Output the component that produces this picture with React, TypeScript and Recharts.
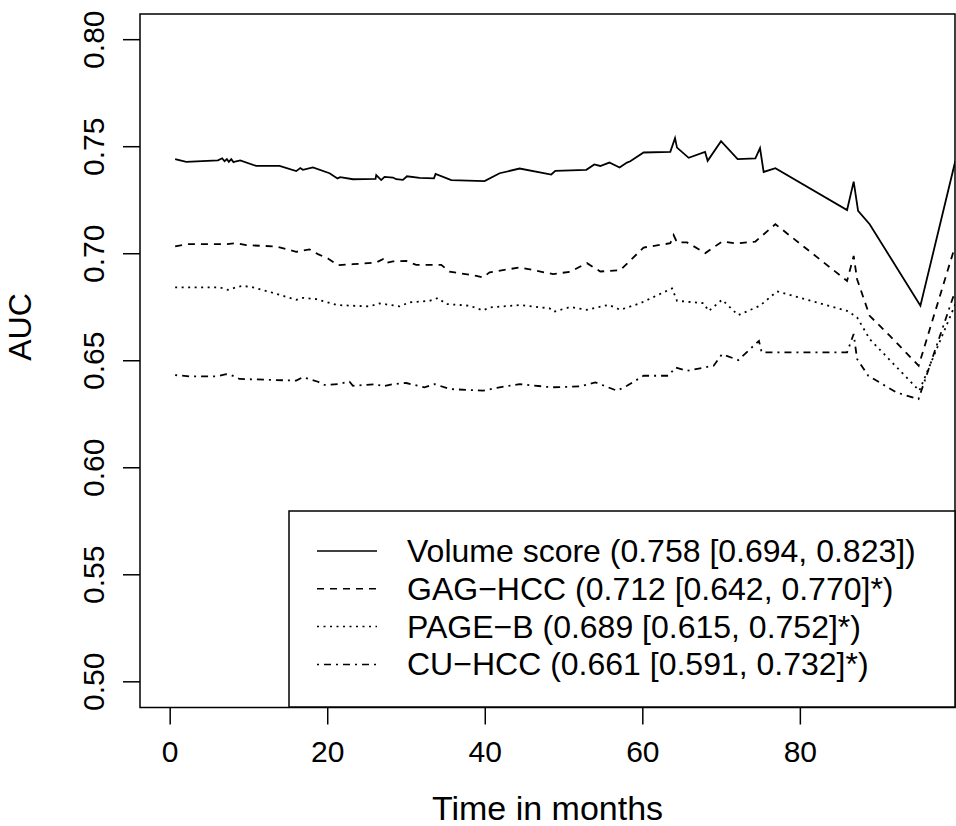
import React from "react";
import {
  LineChart,
  Line,
  XAxis,
  YAxis,
  Legend,
  ReferenceArea,
} from "recharts";

// [month, AUC]
const volumeScore: [number, number][] = [
  [0.63, 0.7442], [2.03, 0.7429], [6.06, 0.7436], [6.6, 0.7446], [6.9, 0.7432],
  [7.2, 0.7442], [7.45, 0.7429], [7.75, 0.7442], [8.04, 0.7428], [8.38, 0.7432],
  [8.89, 0.7436], [10.92, 0.741], [13.88, 0.741], [16.0, 0.7386], [16.51, 0.74],
  [16.85, 0.7392], [18.12, 0.7403], [20.23, 0.7376], [21.24, 0.7352], [21.59, 0.7358],
  [23.2, 0.7348], [26.07, 0.735], [26.16, 0.7367], [26.79, 0.7344], [27.21, 0.7359],
  [28.28, 0.7356], [28.7, 0.7348], [29.55, 0.7345], [30.06, 0.7362], [31.66, 0.7354],
  [33.49, 0.7352], [33.69, 0.7373], [35.68, 0.7344], [39.91, 0.7339], [41.82, 0.7376],
  [44.36, 0.7398], [48.38, 0.737], [48.89, 0.7387], [52.83, 0.7392], [53.84, 0.7417],
  [54.6, 0.741], [55.75, 0.7426], [57.05, 0.7403], [57.99, 0.7426], [58.41, 0.7432],
  [60.1, 0.7473], [63.49, 0.7476], [64.09, 0.754], [64.34, 0.7496], [65.82, 0.7448],
  [67.9, 0.7476], [68.23, 0.7434], [69.93, 0.7526], [72.04, 0.7442], [74.29, 0.7445],
  [74.88, 0.7493], [75.34, 0.7382], [76.83, 0.74], [85.93, 0.7204], [86.77, 0.7337],
  [87.33, 0.72], [88.8, 0.7138], [95.24, 0.6757], [99.68, 0.7434],
];

const gagHcc: [number, number][] = [
  [0.63, 0.7034], [2.25, 0.7045], [7.11, 0.7045], [8.38, 0.7049], [9.65, 0.704],
  [13.46, 0.7034], [16.0, 0.7009], [17.69, 0.702], [18.76, 0.6998], [20.03, 0.6978],
  [21.29, 0.6947], [23.2, 0.6951], [26.16, 0.6959], [27.01, 0.6975], [27.34, 0.6956],
  [28.28, 0.6964], [29.97, 0.6966], [31.24, 0.6948], [34.41, 0.6948], [35.47, 0.6916],
  [38.86, 0.6897], [39.71, 0.6889], [40.55, 0.6913], [44.36, 0.6936], [48.6, 0.6905],
  [50.79, 0.6916], [52.91, 0.6956], [54.6, 0.6917], [57.14, 0.6923], [60.1, 0.7029],
  [63.49, 0.7049], [63.91, 0.7087], [64.34, 0.7053], [65.61, 0.7053], [67.94, 0.7003],
  [70.06, 0.7057], [71.96, 0.7048], [74.29, 0.7057], [76.83, 0.7138], [85.93, 0.6873],
  [86.77, 0.699], [87.2, 0.6881], [88.8, 0.671], [91.34, 0.6617], [95.02, 0.6477],
  [99.59, 0.7029],
];

const pageB: [number, number][] = [
  [0.63, 0.6843], [6.26, 0.6843], [7.33, 0.6831], [8.38, 0.6843], [9.23, 0.685],
  [10.5, 0.6843], [12.61, 0.6822], [16.0, 0.6785], [16.85, 0.6794], [18.54, 0.6788],
  [21.24, 0.676], [25.31, 0.6754], [26.58, 0.6768], [29.12, 0.6754], [30.39, 0.6773],
  [32.93, 0.678], [33.99, 0.6793], [35.05, 0.6765], [38.01, 0.6757], [39.71, 0.6735],
  [40.55, 0.6749], [44.36, 0.676], [48.17, 0.6745], [48.67, 0.6729], [50.79, 0.6751],
  [52.91, 0.6738], [55.66, 0.6761], [57.14, 0.6738], [59.68, 0.6769], [63.71, 0.6838],
  [64.34, 0.678], [67.72, 0.6769], [68.36, 0.6732], [70.06, 0.6785], [72.11, 0.6713],
  [74.86, 0.6757], [77.04, 0.6824], [85.93, 0.6733], [87.2, 0.6703], [88.8, 0.6601],
  [95.1, 0.636], [99.68, 0.6765],
];

const cuHcc: [number, number][] = [
  [0.63, 0.6433], [2.45, 0.6427], [5.84, 0.6427], [7.11, 0.6437], [7.75, 0.6433],
  [8.8, 0.6415], [16.0, 0.6407], [16.85, 0.6423], [18.76, 0.6402], [19.59, 0.6387],
  [21.29, 0.6391], [22.77, 0.6402], [23.2, 0.6383], [26.16, 0.6391], [27.01, 0.638],
  [28.28, 0.6391], [29.97, 0.6396], [32.29, 0.6376], [33.56, 0.6391], [35.47, 0.6368],
  [39.71, 0.636], [41.82, 0.6376], [44.36, 0.6391], [48.38, 0.6376], [52.06, 0.638],
  [53.97, 0.6399], [56.72, 0.636], [57.99, 0.6383], [60.1, 0.643], [63.28, 0.643],
  [64.13, 0.6469], [65.61, 0.6453], [68.99, 0.6477], [70.06, 0.6531], [72.11, 0.6503],
  [74.74, 0.6593], [75.09, 0.6539], [85.93, 0.6539], [86.77, 0.6625], [87.2, 0.6508],
  [88.62, 0.643], [92.19, 0.6352], [95.0, 0.6321], [99.59, 0.6819],
];

const seriesNames = [
  "Volume score (0.758 [0.694, 0.823])",
  "GAG\u2212HCC (0.712 [0.642, 0.770]*)",
  "PAGE\u2212B (0.689 [0.615, 0.752]*)",
  "CU\u2212HCC (0.661 [0.591, 0.732]*)",
];
const seriesDash = [undefined, "7 6", "2 4.5", "2 5 7 5"];
const seriesPoints = [volumeScore, gagHcc, pageB, cuHcc];

const xTicks = [0, 20, 40, 60, 80];
const yTicks = [0.5, 0.55, 0.6, 0.65, 0.7, 0.75, 0.8];

const X_DOMAIN: [number, number] = [-3.832, 99.632];
const Y_DOMAIN: [number, number] = [0.488, 0.812];

const FONT = "'Liberation Sans', Arial, sans-serif";
const FS = 30;

const series = seriesNames.map((name, i) => ({
  name,
  dash: seriesDash[i],
  data: seriesPoints[i].map(([t, auc]) => ({ t, auc })),
}));

const XTick = (props: any) => {
  const { x, y, payload } = props;
  return (
    <text x={x} y={y + 35} textAnchor="middle" fontFamily={FONT} fontSize={FS} fill="#000">
      {payload.value}
    </text>
  );
};

const YTick = (props: any) => {
  const { x, y, payload } = props;
  const bx = x - 17;
  return (
    <text
      x={bx}
      y={y}
      textAnchor="middle"
      transform={`rotate(-90, ${bx}, ${y})`}
      fontFamily={FONT}
      fontSize={FS}
      fill="#000"
    >
      {payload.value.toFixed(2)}
    </text>
  );
};

const LegendBox = () => (
  <svg width={668} height={198} style={{ display: "block" }}>
    <rect x={1} y={1} width={666} height={196} fill="#fff" stroke="#000" strokeWidth={1.5} />
    {series.map((s, i) => {
      const cy = 41 + i * 37.8;
      return (
        <g key={s.name}>
          <line
            x1={29}
            x2={89}
            y1={cy}
            y2={cy}
            stroke="#000"
            strokeWidth={1.5}
            strokeDasharray={s.dash}
          />
          <text x={119} y={cy + 11} fontFamily={FONT} fontSize={32} fill="#000">
            {s.name}
          </text>
        </g>
      );
    })}
  </svg>
);

export default function App() {
  return (
    <div style={{ position: "absolute", left: 0, top: 0, width: 956, height: 826, background: "#fff" }}>
      <LineChart width={956} height={826} margin={{ top: 14, right: 1, left: 0, bottom: 0 }}>
        <XAxis
          type="number"
          dataKey="t"
          domain={X_DOMAIN}
          allowDataOverflow
          ticks={xTicks}
          interval={0}
          height={118.5}
          tickSize={17}
          axisLine={false}
          tickLine={{ stroke: "#000", strokeWidth: 1.5 }}
          tick={<XTick />}
          label={{
            value: "Time in months",
            position: "insideBottom",
            offset: 6,
            fontFamily: FONT,
            fontSize: 34,
            fill: "#000",
          }}
        />
        <YAxis
          type="number"
          dataKey="auc"
          domain={Y_DOMAIN}
          allowDataOverflow
          ticks={yTicks}
          interval={0}
          width={140}
          tickSize={17}
          axisLine={false}
          tickLine={{ stroke: "#000", strokeWidth: 1.5 }}
          tick={<YTick />}
          label={{
            value: "AUC",
            angle: -90,
            position: "insideLeft",
            offset: 20,
            fontFamily: FONT,
            fontSize: 32,
            fill: "#000",
          }}
        />
        <ReferenceArea
          x1={X_DOMAIN[0]}
          x2={X_DOMAIN[1]}
          y1={Y_DOMAIN[0]}
          y2={Y_DOMAIN[1]}
          fill="none"
          stroke="#000"
          strokeWidth={1.5}
          fillOpacity={0}
          ifOverflow="extendDomain"
        />
        {series.map((s) => (
          <Line
            key={s.name}
            data={s.data}
            dataKey="auc"
            name={s.name}
            type="linear"
            stroke="#000"
            strokeWidth={1.8}
            strokeDasharray={s.dash}
            dot={false}
            activeDot={false}
            isAnimationActive={false}
          />
        ))}
        <Legend
          layout="vertical"
          align="center"
          verticalAlign="middle"
          content={<LegendBox />}
          wrapperStyle={{ position: "absolute", left: 288, top: 510, width: 668, height: 198 }}
        />
      </LineChart>
    </div>
  );
}
